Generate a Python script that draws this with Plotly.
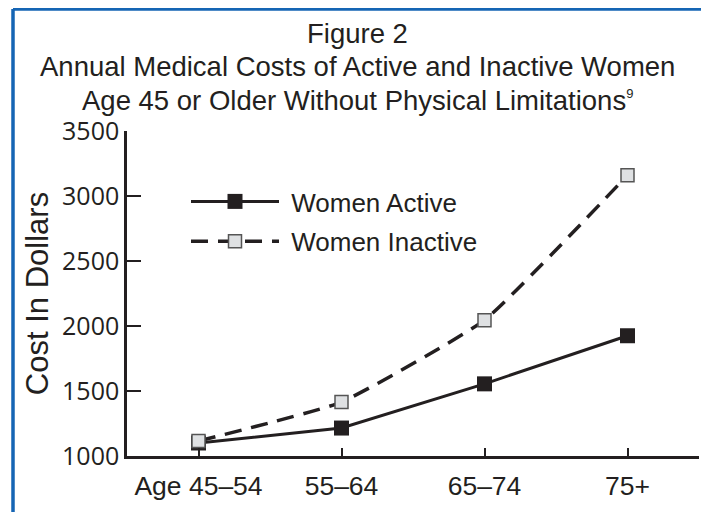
import plotly.graph_objects as go

categories = ["Age 45–54", "55–64", "65–74", "75+"]
women_active = [1100, 1215, 1555, 1925]
women_inactive = [1115, 1415, 2045, 3160]
y_ticks = [1000, 1500, 2000, 2500, 3000, 3500]

# page body has an 8px margin, so the figure is drawn 8px right/down
OFF = 8
W, H = 709 - OFF, 512 - OFF
ml, mr, mt, mb = 127 - OFF, 10, 131 - OFF, 56
pw, ph = W - ml - mr, H - mt - mb

def px(x):
    return (x - OFF - ml) / pw

def py(y):
    return (H - mb - (y - OFF)) / ph

dark = "#231f20"
blue = "#1565b4"
sans = "Liberation Sans, Arial, sans-serif"

fig = go.Figure()
fig.add_trace(go.Scatter(
    x=list(range(len(categories))), y=women_active, name="\u00a0Women Active",
    mode="lines+markers", legendgroup="a",
    line=dict(color=dark, width=3),
    marker=dict(symbol="square", size=15, color=dark, line=dict(color=dark, width=0)),
))
fig.add_trace(go.Scatter(
    x=list(range(len(categories))), y=women_inactive, name="\u00a0Women Inactive",
    mode="lines+markers", legendgroup="b",
    line=dict(color=dark, width=3.5, dash="17px,10px", shape="spline", smoothing=0.4),
    marker=dict(symbol="square", size=13, color="#dfe1e3", line=dict(color="#555555", width=1.5)),
))

fig.update_layout(
    width=W, height=H,
    margin=dict(l=ml, r=mr, t=mt, b=mb),
    paper_bgcolor="white", plot_bgcolor="white",
    font=dict(family=sans, color=dark),
    showlegend=True,
    legend=dict(
        x=px(186), y=py(178), xanchor="left", yanchor="top",
        font=dict(size=26, family=sans, color=dark),
        bgcolor="rgba(0,0,0,0)", itemwidth=88,
        traceorder="grouped", tracegroupgap=3,
    ),
    xaxis=dict(
        range=[-0.5, 3.5], tickmode="array",
        tickvals=list(range(len(categories))), ticktext=categories,
        tickson="boundaries", ticks="inside", ticklen=8, tickwidth=1.8, tickcolor=dark,
        showline=True, linecolor=dark, linewidth=2.5, showgrid=False, zeroline=False,
        tickfont=dict(size=26.5, family=sans, color=dark), ticklabelstandoff=4,
    ),
    yaxis=dict(
        range=[1000, 3500], tickmode="array", tickvals=y_ticks,
        ticks="inside", ticklen=14, tickwidth=1.8, tickcolor=dark,
        showline=True, linecolor=dark, linewidth=2.5, showgrid=False, zeroline=False,
        tickfont=dict(size=25, family="Open Sans, sans-serif", color=dark),
        title=dict(text="Cost In Dollars", standoff=5,
                   font=dict(size=31, family=sans, color=dark)),
    ),
)

titles = [
    ("Figure 2", 34),
    ("Annual Medical Costs of Active and Inactive Women", 67),
    ("Age 45 or Older Without Physical Limitations<sup><span style='font-size:13px'>9</span></sup>", 100),
]
for text, yc in titles:
    fig.add_annotation(
        text=text, xref="paper", yref="paper", x=px(357), y=py(yc),
        xanchor="center", yanchor="middle", showarrow=False,
        font=dict(size=27.5, family=sans, color=dark),
    )

# blue frame (open at bottom)
for x0, y0, x1, y1 in [(13, 9, 705, 9), (13, 9, 13, 530), (705, 9, 705, 530)]:
    fig.add_shape(type="line", xref="paper", yref="paper",
                  x0=px(x0), y0=py(y0), x1=px(x1), y1=py(y1),
                  line=dict(color=blue, width=3.5))

fig.write_html("out.html")
